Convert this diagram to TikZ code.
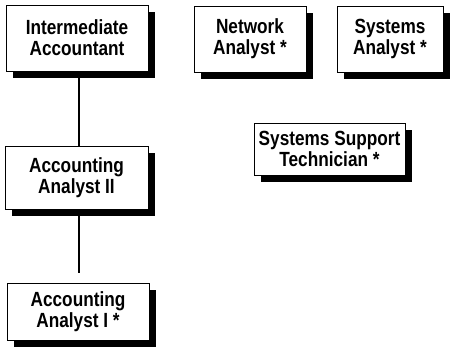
\documentclass[tikz,border=0pt]{standalone}
\usepackage{fontspec}
\setmainfont{Liberation Sans}[FakeStretch=0.84]
\usetikzlibrary{shadows}
\begin{document}
\begin{tikzpicture}[x=1pt,y=1pt,
  jobbox/.style={draw=black, line width=0.9pt, fill=white, rectangle, align=center,
    inner sep=0pt,
    font=\fontsize{20.5}{21}\selectfont\bfseries,
    drop shadow={shadow xshift=7pt, shadow yshift=-7pt, fill=black, opacity=1}},
  link/.style={draw=black, line width=2pt}]
\useasboundingbox (0,0) rectangle (450,-349);
\node[jobbox, minimum width=142, minimum height=66] (ia) at (77,-38) {Intermediate\\Accountant};
\node[jobbox, minimum width=143, minimum height=63] (aa2) at (76.5,-177.5) {Accounting\\Analyst II};
\node[jobbox, minimum width=142, minimum height=57] (aa1) at (78,-311.5) {Accounting\\Analyst I *};
\node[jobbox, minimum width=112, minimum height=66] (na) at (250,-39) {Network\\Analyst *};
\node[jobbox, minimum width=106, minimum height=66] (sa) at (390,-39) {Systems\\Analyst *};
\node[jobbox, minimum width=151, minimum height=52] (sst) at (329.5,-149) {Systems Support\\Technician *};
\path[link] ([xshift=1.5pt]ia.south) -- ([xshift=2pt]aa2.north);
\path[link, shorten >=10pt] ([xshift=2pt]aa2.south) -- ([xshift=0.5pt]aa1.north);
\end{tikzpicture}
\end{document}
